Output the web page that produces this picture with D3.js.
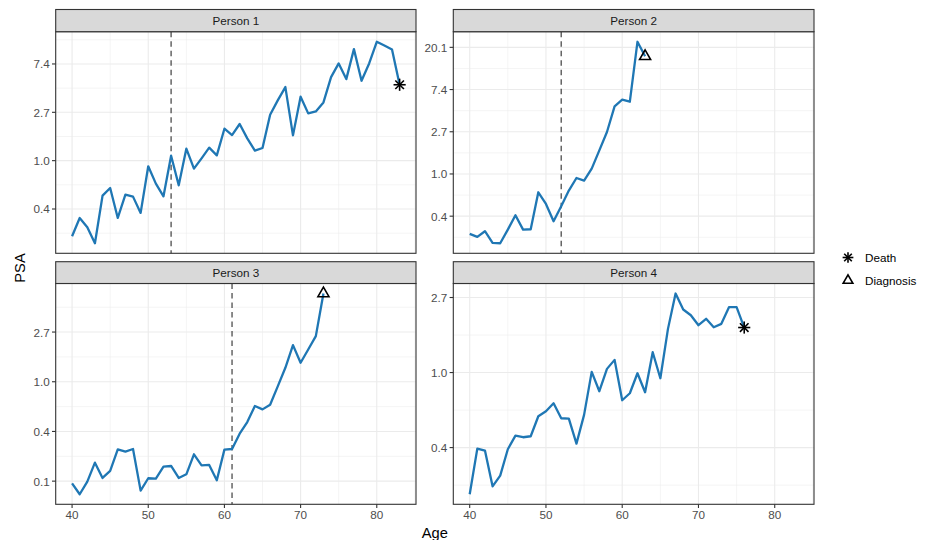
<!DOCTYPE html>
<html>
<head>
<meta charset="utf-8">
<script src="https://cdn.jsdelivr.net/npm/d3@7"></script>
<style>
  html, body { margin: 0; padding: 0; background: #fff; }
  svg { display: block; }
  text { font-family: "Liberation Sans", Arial, Helvetica, sans-serif; }
</style>
</head>
<body>
<svg id="chart" width="925" height="540"></svg>
<script>
// ---------------- data (natural log of PSA, one value per year of age) ----------------
const persons = ["Person 1", "Person 2", "Person 3", "Person 4"];
const startAge = [40, 40, 40, 40];
const logPSA1 = [-1.563,-1.185,-1.377,-1.708,-0.723,-0.565,-1.185,-0.703,-0.744,-1.081,
  -0.117,-0.475,-0.737,0.103,-0.510,0.248,-0.165,0.048,0.269,0.110,
  0.661,0.530,0.758,0.461,0.207,0.262,0.950,1.247,1.522,0.523,
  1.322,0.978,1.019,1.205,1.729,2.011,1.687,2.307,1.653,2.011,
  2.459,2.383,2.300,1.570];
const logPSA2 = [-1.420,-1.491,-1.357,-1.633,-1.641,-1.318,-0.978,-1.318,-1.310,-0.434,
  -0.710,-1.120,-0.765,-0.394,-0.095,-0.158,0.126,0.560,0.994,1.602,
  1.759,1.712,3.132,2.788];
const logPSA3 = [-2.043,-2.264,-2.009,-1.628,-1.936,-1.795,-1.360,-1.407,-1.353,-2.190,
  -1.942,-1.949,-1.708,-1.695,-1.936,-1.862,-1.460,-1.681,-1.674,-1.983,
  -1.366,-1.353,-1.045,-0.810,-0.489,-0.556,-0.462,-0.094,0.281,0.737,
  0.382,0.650,0.918,1.775];
const logPSA4 = [-1.622,-1.013,-1.040,-1.516,-1.373,-1.022,-0.840,-0.862,-0.849,-0.582,
  -0.516,-0.409,-0.609,-0.613,-0.947,-0.564,0.009,-0.249,0.049,0.169,
  -0.369,-0.276,-0.009,-0.262,0.271,-0.076,0.582,1.053,0.840,0.764,
  0.631,0.716,0.604,0.649,0.871,0.871,0.600];
const seriesValues = [logPSA1, logPSA2, logPSA3, logPSA4];
const eventType = ["Death", "Diagnosis", "Diagnosis", "Death"];   // marker at last observation
const dashedAge = [53, 52, 61, null];
const xTicks = [40, 50, 60, 70, 80];
const xMinor = [45, 55, 65, 75, 85];
const yTickLogs = [-2, -1, 0, 1, 2, 3];
const yTickLabels = ["0.1", "0.4", "1.0", "2.7", "7.4", "20.1"];
const legendLabels = ["Death", "Diagnosis"];

// ---------------- layout ----------------
const svg = d3.select("#chart");
const cols = [[55.7, 416], [453.3, 814]];
const rows = [{strip: [9.5, 31.7], panel: [31.7, 253.3]}, {strip: [261.7, 283.5], panel: [283.5, 504.3]}];
const lineColor = "#1F77B4";
const gridCol = "#EBEBEB";
const borderCol = "#333333";

// shared x domain: range of all ages, expanded 5%
const allAges = [];
seriesValues.forEach((s, i) => s.forEach((v, j) => allAges.push(startAge[i] + j)));
const xExt = d3.extent(allAges);
const xPad = (xExt[1] - xExt[0]) * 0.05;

function drawStar(g, x, y, xc, sw) {
  const p = Math.SQRT2 * xc;
  const segs = [[x - xc, y - xc, x + xc, y + xc], [x - xc, y + xc, x + xc, y - xc],
                [x - p, y, x + p, y], [x, y - p, x, y + p]];
  segs.forEach(s => g.append("line").attr("x1", s[0]).attr("y1", s[1]).attr("x2", s[2]).attr("y2", s[3])
    .attr("stroke", "#000").attr("stroke-width", sw).attr("stroke-linecap", "butt"));
}
function drawTriangle(g, x, y, xc, sw) {
  const r = 1.5551 * xc, h = 1.3468 * xc, yc = 0.7776 * xc;
  g.append("path").attr("d", `M${x},${y - r}L${x + h},${y + yc}L${x - h},${y + yc}Z`)
    .attr("fill", "none").attr("stroke", "#000").attr("stroke-width", sw).attr("stroke-linejoin", "miter");
}

persons.forEach((name, i) => {
  const c = cols[i % 2], r = rows[Math.floor(i / 2)];
  const vals = seriesValues[i];
  const data = vals.map((v, j) => ({age: startAge[i] + j, v}));
  const x = d3.scaleLinear().domain([xExt[0] - xPad, xExt[1] + xPad]).range([c[0], c[1]]);
  const yExt = d3.extent(vals);
  const yPad = (yExt[1] - yExt[0]) * 0.05;
  const y = d3.scaleLinear().domain([yExt[0] - yPad, yExt[1] + yPad]).range([r.panel[1], r.panel[0]]);
  const [y0, y1] = y.domain();
  const g = svg.append("g");

  // panel background
  g.append("rect").attr("x", c[0]).attr("y", r.panel[0]).attr("width", c[1] - c[0]).attr("height", r.panel[1] - r.panel[0]).attr("fill", "#fff");

  // minor grid
  const yMinor = [];
  for (let k = Math.ceil(y0 - 0.5); k + 0.5 <= y1; k++) if (k + 0.5 >= y0) yMinor.push(k + 0.5);
  g.selectAll(null).data(yMinor).enter().append("line")
    .attr("x1", c[0]).attr("x2", c[1]).attr("y1", d => y(d)).attr("y2", d => y(d))
    .attr("stroke", gridCol).attr("stroke-width", 0.55);
  g.selectAll(null).data(xMinor.filter(d => d >= x.domain()[0] && d <= x.domain()[1])).enter().append("line")
    .attr("y1", r.panel[0]).attr("y2", r.panel[1]).attr("x1", d => x(d)).attr("x2", d => x(d))
    .attr("stroke", gridCol).attr("stroke-width", 0.55);
  // major grid
  const yt = yTickLogs.map((k, idx) => ({k, label: yTickLabels[idx]})).filter(d => d.k >= y0 && d.k <= y1);
  g.selectAll(null).data(yt).enter().append("line")
    .attr("x1", c[0]).attr("x2", c[1]).attr("y1", d => y(d.k)).attr("y2", d => y(d.k))
    .attr("stroke", gridCol).attr("stroke-width", 1.1);
  g.selectAll(null).data(xTicks).enter().append("line")
    .attr("y1", r.panel[0]).attr("y2", r.panel[1]).attr("x1", d => x(d)).attr("x2", d => x(d))
    .attr("stroke", gridCol).attr("stroke-width", 1.1);

  // dashed vertical line
  if (dashedAge[i] !== null) {
    g.append("line").attr("x1", x(dashedAge[i])).attr("x2", x(dashedAge[i]))
      .attr("y1", r.panel[0]).attr("y2", r.panel[1])
      .attr("stroke", "#4D4D4D").attr("stroke-width", 1.3).attr("stroke-dasharray", "5.5,4");
  }

  // series line
  g.append("path").datum(data)
    .attr("d", d3.line().x(d => x(d.age)).y(d => y(d.v)))
    .attr("fill", "none").attr("stroke", lineColor).attr("stroke-width", 2.3)
    .attr("stroke-linejoin", "round").attr("stroke-linecap", "butt");

  // event marker at last point
  const last = data[data.length - 1];
  if (eventType[i] === "Death") drawStar(g, x(last.age), y(last.v), 4.3, 1.6);
  else drawTriangle(g, x(last.age), y(last.v), 4.1, 1.6);

  // panel border
  g.append("rect").attr("x", c[0]).attr("y", r.panel[0]).attr("width", c[1] - c[0]).attr("height", r.panel[1] - r.panel[0])
    .attr("fill", "none").attr("stroke", borderCol).attr("stroke-width", 1.1);

  // strip
  g.append("rect").attr("x", c[0]).attr("y", r.strip[0]).attr("width", c[1] - c[0]).attr("height", r.strip[1] - r.strip[0])
    .attr("fill", "#D9D9D9").attr("stroke", borderCol).attr("stroke-width", 1.1);
  g.append("text").attr("x", (c[0] + c[1]) / 2).attr("y", (r.strip[0] + r.strip[1]) / 2)
    .attr("text-anchor", "middle").attr("dominant-baseline", "central")
    .attr("font-size", "11.7px").attr("fill", "#1A1A1A").text(name);

  // y axis ticks + labels
  g.selectAll(null).data(yt).enter().append("line")
    .attr("x1", c[0] - 3.7).attr("x2", c[0]).attr("y1", d => y(d.k)).attr("y2", d => y(d.k))
    .attr("stroke", borderCol).attr("stroke-width", 1.1);
  g.selectAll(null).data(yt).enter().append("text")
    .attr("x", c[0] - 6).attr("y", d => y(d.k)).attr("text-anchor", "end").attr("dominant-baseline", "central")
    .attr("font-size", "11.7px").attr("fill", "#4D4D4D").text(d => d.label);

  // x axis on bottom row
  if (Math.floor(i / 2) === 1) {
    g.selectAll(null).data(xTicks).enter().append("line")
      .attr("x1", d => x(d)).attr("x2", d => x(d)).attr("y1", r.panel[1]).attr("y2", r.panel[1] + 3.7)
      .attr("stroke", borderCol).attr("stroke-width", 1.1);
    g.selectAll(null).data(xTicks).enter().append("text")
      .attr("x", d => x(d)).attr("y", r.panel[1] + 6).attr("text-anchor", "middle").attr("dominant-baseline", "hanging")
      .attr("font-size", "11.7px").attr("fill", "#4D4D4D").text(d => d);
  }
});

// axis titles
svg.append("text").attr("x", (cols[0][0] + cols[1][1]) / 2).attr("y", 533)
  .attr("text-anchor", "middle").attr("dominant-baseline", "central")
  .attr("font-size", "14.7px").attr("fill", "#000").text("Age");
svg.append("text").attr("transform", `translate(20,${(rows[0].panel[0] + rows[1].panel[1]) / 2}) rotate(-90)`)
  .attr("text-anchor", "middle").attr("dominant-baseline", "central")
  .attr("font-size", "14.7px").attr("fill", "#000").text("PSA");

// legend
const lg = svg.append("g");
legendLabels.forEach((lab, k) => {
  const cy = 257.5 + k * 22.5;
  if (lab === "Death") drawStar(lg, 848, cy, 3.8, 1.6);
  else drawTriangle(lg, 848, cy + 0.5, 3.6, 1.6);
  lg.append("text").attr("x", 865).attr("y", cy).attr("dominant-baseline", "central")
    .attr("font-size", "11.7px").attr("fill", "#000").text(lab);
});
</script>
</body>
</html>
